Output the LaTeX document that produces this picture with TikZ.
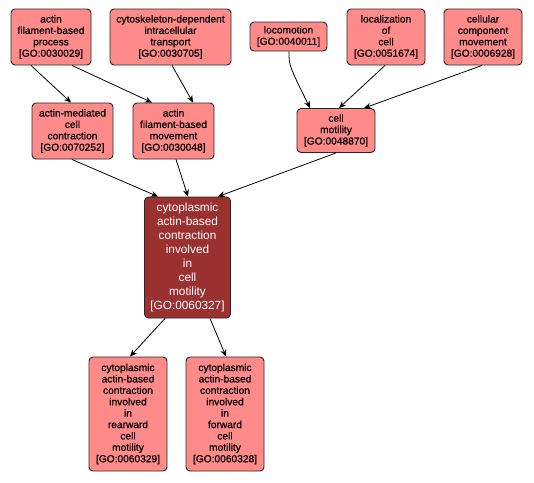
\documentclass[tikz,border=0pt]{standalone}
\usepackage{fontspec}
\setmainfont{Liberation Sans}
\newfontface\pinkfont{Liberation Sans}[FakeBold=0.6]
\usetikzlibrary{arrows.meta}
\definecolor{pinkfill}{RGB}{255,138,138}
\definecolor{darkfill}{RGB}{155,48,48}
\definecolor{edgegray}{RGB}{40,40,40}
\tikzset{
  gobox/.style={draw=edgegray, line width=0.9pt, rounded corners=4pt, fill=pinkfill, align=center, inner sep=0pt,
    font=\fontsize{10.2}{11.4}\pinkfont},
  mainbox/.style={draw=edgegray, line width=0.9pt, rounded corners=4pt, fill=darkfill, text=white, align=center, inner sep=0pt,
    font=\fontsize{11.8}{13.9}\selectfont},
  conn/.style={-{Stealth[length=7pt,width=6pt]}, line width=0.8pt, black}
}
\begin{document}
\begin{tikzpicture}[x=1pt,y=-1pt]
\useasboundingbox (0,0) rectangle (534,482);
\fill[white] (0,0) rectangle (534,482);
\node[gobox, minimum width=80pt, minimum height=56pt] (n1) at (51,37) {actin\\filament-based\\process\\{}[GO:0030029]};
\node[gobox, minimum width=121pt, minimum height=56pt] (n2) at (170.5,37) {cytoskeleton-dependent\\intracellular\\transport\\{}[GO:0030705]};
\node[gobox, minimum width=77pt, minimum height=29pt] (n3) at (288.5,36.5) {locomotion\\{}[GO:0040011]};
\node[gobox, minimum width=78pt, minimum height=56pt] (n4) at (386,37) {localization\\of\\cell\\{}[GO:0051674]};
\node[gobox, minimum width=78pt, minimum height=56pt] (n5) at (483,37) {cellular\\component\\movement\\{}[GO:0006928]};
\node[gobox, minimum width=81pt, minimum height=56pt] (n6) at (72.5,131) {actin-mediated\\cell\\contraction\\{}[GO:0070252]};
\node[gobox, minimum width=81pt, minimum height=56pt] (n7) at (173.5,131) {actin\\filament-based\\movement\\{}[GO:0030048]};
\node[gobox, minimum width=78pt, minimum height=44pt] (n8) at (336,130.5) {cell\\motility\\{}[GO:0048870]};
\node[mainbox, minimum width=86pt, minimum height=121pt] (n9) at (187.5,257.5) {cytoplasmic\\actin-based\\contraction\\involved\\in\\cell\\motility\\{}[GO:0060327]};
\node[gobox, minimum width=78pt, minimum height=114pt] (n10) at (128,414) {cytoplasmic\\actin-based\\contraction\\involved\\in\\rearward\\cell\\motility\\{}[GO:0060329]};
\node[gobox, minimum width=78pt, minimum height=114pt] (n11) at (225,414) {cytoplasmic\\actin-based\\contraction\\involved\\in\\forward\\cell\\motility\\{}[GO:0060328]};
\draw[conn] ([xshift=-20pt]n1.south) -- ([xshift=-1.5pt]n6.north);
\draw[conn] ([xshift=21pt]n1.south) -- ([xshift=-21.5pt]n7.north);
\draw[conn] ([xshift=1.5pt]n2.south) -- ([xshift=19.5pt]n7.north);
\draw[conn] ([xshift=0.5pt]n3.south) .. controls ([xshift=0.5pt,yshift=-14pt]n3.south) .. ([xshift=-26pt]n8.north);
\draw[conn] ([xshift=-1pt]n4.south) -- ([xshift=3pt]n8.north);
\draw[conn] ([xshift=-1pt]n5.south) -- ([xshift=28pt]n8.north);
\draw[conn] ([xshift=-0.5pt]n6.south) -- ([xshift=-29.5pt]n9.north);
\draw[conn] ([xshift=2.5pt]n7.south) -- ([xshift=0.5pt]n9.north);
\draw[conn] (n8.south) -- ([xshift=30.5pt]n9.north);
\draw[conn] ([xshift=-22.5pt]n9.south) -- ([xshift=2pt]n10.north);
\draw[conn] ([xshift=22.5pt]n9.south) -- ([xshift=1pt]n11.north);
\end{tikzpicture}
\end{document}
